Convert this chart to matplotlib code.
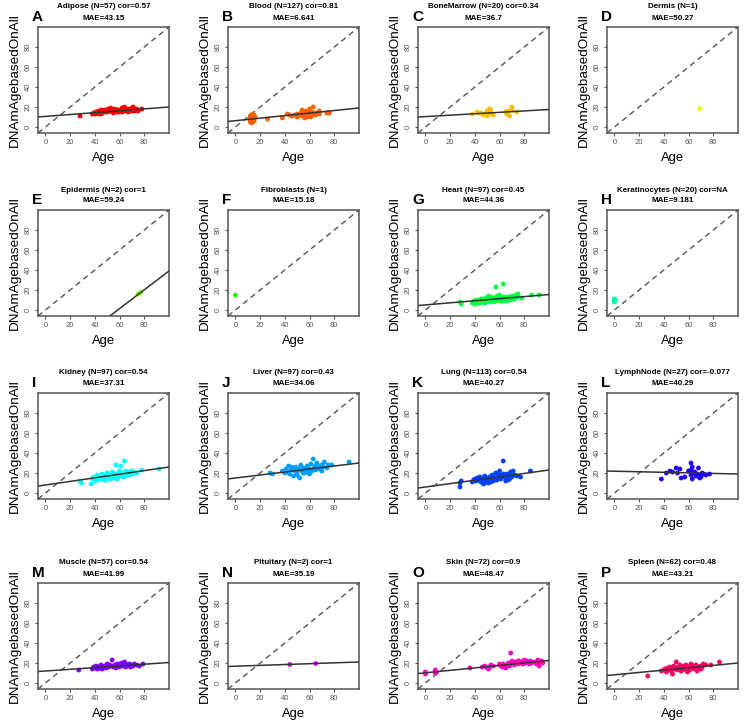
import matplotlib
matplotlib.use("Agg")
import matplotlib.pyplot as plt
import numpy as np

plt.rcParams['font.family'] = ['Liberation Sans', 'DejaVu Sans']

# ---------------- data ----------------
tissues = ["Adipose", "Blood", "BoneMarrow", "Dermis", "Epidermis", "Fibroblasts",
           "Heart", "Keratinocytes", "Kidney", "Liver", "Lung", "LymphNode",
           "Muscle", "Pituitary", "Skin", "Spleen"]
letters = list("ABCDEFGHIJKLMNOP")
n_samples = [57, 127, 20, 1, 2, 1, 97, 20, 97, 97, 113, 27, 57, 2, 72, 62]
cor_text = ["0.57", "0.81", "0.34", None, "1", None, "0.45", "NA", "0.54", "0.43",
            "0.54", "-0.077", "0.54", "1", "0.9", "0.48"]
mae_text = ["43.15", "6.641", "36.7", "50.27", "59.24", "15.18", "44.36", "9.181",
            "37.31", "34.06", "40.27", "40.29", "41.99", "35.19", "48.47", "43.21"]
colors = ["#FF0000", "#FF6000", "#FFBF00", "#DFFF00", "#80FF00", "#20FF00",
          "#00FF40", "#00FF9F", "#00FFFF", "#009FFF", "#0040FF", "#2000FF",
          "#8000FF", "#DF00FF", "#FF00BF", "#FF0060"]
# fitted line (intercept, slope); None = no fit drawn
fit_intercept = [10.6, 6.3, 10.4, None, -55.0, None, 5.1, None, 8.0, 15.0, 6.0, 21.8,
                 12.0, 16.8, 10.2, 8.2]
fit_slope = [0.094, 0.127, 0.071, None, 0.94, None, 0.104, None, 0.18, 0.15, 0.17, -0.028,
             0.085, 0.042, 0.123, 0.118]

adipose_age = [28, 38, 39, 40, 41, 42, 43, 44, 45, 46, 47, 48, 49, 50, 51, 52, 53, 54, 55, 56,
               57, 58, 59, 60, 61, 62, 63, 64, 65, 66, 67, 68, 69, 70, 71, 72, 73, 74, 75, 78,
               45, 50, 55, 60, 65, 70, 43, 48, 53, 58, 62, 67, 72, 41, 46, 63, 57]
adipose_pred = [11, 13, 14, 13, 15, 14, 16, 15, 17, 14, 16, 15, 16, 17, 18, 16, 17, 15, 16, 18,
                16, 15, 17, 16, 17, 19, 18, 20, 16, 17, 18, 16, 17, 19, 20, 18, 17, 18, 16, 18,
                13, 15, 14, 15, 18, 16, 13, 17, 19, 17, 15, 15, 16, 14, 16, 16, 17]

blood_age = [12, 12, 12, 13, 13, 13, 13, 14, 14, 14, 14, 15, 15, 15, 15, 12, 13, 14, 15, 16,
             12, 14, 15, 13, 26, 38, 42, 44, 46, 48, 50, 50, 52, 54, 54, 55, 56, 56, 57, 58,
             58, 59, 60, 60, 60, 61, 62, 62, 63, 64, 65, 66, 68, 68, 74, 75, 76, 53, 57]
blood_pred = [5, 7, 9, 6, 8, 10, 12, 5, 7, 9, 11, 6, 8, 10, 12, 11, 4, 13, 9, 10,
              8, 6, 7, 9, 8, 9, 13, 12, 11, 12, 13, 10, 12, 11, 17, 15, 13, 9, 11, 14,
              10, 12, 16, 18, 13, 10, 15, 12, 20, 14, 12, 14, 16, 13, 14, 14, 14, 14, 16]

bonemarrow_age = [38, 42, 43, 45, 47, 48, 50, 50, 51, 52, 53, 54, 55, 65, 66, 67, 68, 70, 70, 74]
bonemarrow_pred = [13, 15, 14, 14, 12, 13, 16, 11, 14, 18, 17, 13, 12, 15, 13, 16, 11, 20, 17, 15]

dermis_age = [69]
dermis_pred = [18.5]

epidermis_age = [75, 77]
epidermis_pred = [16, 17.5]

fibroblasts_age = [0]
fibroblasts_pred = [15]

heart_age = [28, 29, 38, 39, 40, 40, 41, 42, 42, 43, 44, 44, 45, 46, 46, 47, 48, 48, 49, 50,
             50, 51, 52, 52, 53, 54, 55, 55, 56, 57, 57, 58, 59, 60, 60, 61, 62, 63, 63, 64,
             65, 66, 67, 68, 69, 70, 71, 72, 73, 74, 75, 78, 86, 92, 45, 50, 53, 58, 62, 66, 70]
heart_pred = [8, 6, 7, 9, 8, 6, 10, 7, 9, 8, 10, 7, 9, 8, 11, 10, 9, 7, 12, 10,
              8, 14, 11, 9, 13, 10, 12, 8, 11, 23, 9, 14, 10, 12, 15, 9, 11, 26, 13, 10,
              12, 9, 11, 13, 10, 14, 12, 11, 15, 13, 16, 12, 15, 15, 11, 12, 9, 11, 9, 13, 11]

keratinocytes_age = [0, 0, 0, 0, 0, 0, 0, 0, 0, 0]
keratinocytes_pred = [8, 8.5, 9, 9.5, 10, 10.5, 11, 9.2, 10.2, 8.8]

kidney_age = [28, 29, 37, 38, 39, 40, 41, 42, 43, 44, 45, 46, 47, 48, 49, 50, 51, 52, 53, 54,
              55, 56, 57, 58, 59, 60, 61, 62, 63, 64, 65, 66, 67, 68, 69, 70, 71, 72, 74, 78,
              92, 45, 50, 55, 60, 65, 48, 53, 58, 63, 68]
kidney_pred = [12, 10, 9, 14, 16, 12, 15, 18, 13, 16, 14, 19, 15, 17, 13, 20, 16, 18, 14, 21,
               17, 15, 28, 19, 16, 22, 27, 18, 20, 32, 17, 19, 21, 18, 20, 22, 19, 21, 20, 23,
               24, 18, 15, 19, 17, 22, 13, 17, 14, 16, 21]

liver_age = [28, 30, 38, 40, 41, 42, 43, 44, 45, 46, 47, 48, 49, 50, 51, 52, 53, 54, 55, 56,
             57, 58, 59, 60, 61, 62, 63, 64, 65, 66, 67, 68, 69, 70, 71, 72, 74, 75, 78, 92,
             45, 50, 55, 60, 65, 70, 48, 53, 58, 63]
liver_pred = [20, 19, 22, 20, 24, 21, 27, 19, 23, 25, 17, 22, 26, 21, 24, 15, 28, 22, 25, 20,
              23, 27, 21, 24, 29, 22, 34, 26, 23, 30, 25, 24, 27, 22, 26, 31, 25, 28, 28, 31,
              26, 18, 20, 19, 28, 28, 25, 23, 25, 24]

lung_age = [28, 28, 29, 38, 39, 40, 41, 42, 43, 44, 45, 46, 47, 48, 49, 50, 51, 52, 53, 54,
            55, 56, 57, 58, 59, 60, 61, 62, 63, 64, 65, 66, 67, 68, 69, 70, 71, 72, 74, 77,
            85, 45, 50, 55, 60, 65, 48, 53, 58, 63, 68]
lung_pred = [6, 10, 12, 11, 13, 14, 12, 15, 13, 16, 11, 14, 9, 17, 13, 15, 10, 16, 14, 18,
             12, 15, 20, 13, 17, 22, 14, 16, 32, 18, 15, 19, 13, 17, 21, 16, 22, 18, 17, 16,
             22, 15, 12, 16, 18, 12, 10, 11, 16, 19, 14]

lymphnode_age = [38, 42, 45, 47, 50, 51, 53, 54, 57, 60, 62, 62, 63, 63, 64, 65, 66, 67, 68, 69,
                 70, 70, 71, 72, 74, 77, 62]
lymphnode_pred = [14, 20, 22, 21, 25, 20, 24, 15, 16, 22, 30, 18, 14, 26, 20, 21, 17, 19, 25, 15,
                  16, 18, 20, 19, 18, 19, 23]

muscle_age = [27, 38, 39, 40, 41, 42, 43, 44, 45, 46, 47, 48, 49, 50, 51, 52, 53, 54, 55, 56,
              57, 58, 59, 60, 61, 62, 63, 64, 65, 66, 67, 68, 69, 70, 71, 72, 74, 76, 79,
              45, 50, 55, 60, 65, 70]
muscle_pred = [13, 14, 16, 15, 17, 14, 16, 15, 18, 14, 16, 17, 15, 19, 16, 18, 17, 23, 16, 18,
               15, 19, 17, 16, 18, 20, 17, 21, 19, 18, 17, 19, 16, 18, 17, 19, 18, 17, 19,
               15, 16, 17, 19, 16, 17]

pituitary_age = [44, 65]
pituitary_pred = [18.5, 19.5]

skin_age = [0, 0, 0, 8, 8, 8, 9, 36, 46, 48, 50, 51, 52, 53, 55, 60, 62, 63, 64, 65,
            66, 67, 68, 69, 70, 71, 72, 73, 74, 75, 76, 77, 78, 79, 80, 81, 82, 83, 84, 85,
            86, 88, 90, 91, 92, 93, 94, 95, 60, 70, 80, 85, 75, 68]
skin_pred = [9, 11, 10, 10, 12, 13, 11, 15, 16, 17, 15, 14, 16, 18, 17, 18, 16, 19, 17, 15,
             18, 20, 17, 30, 22, 19, 18, 21, 20, 19, 22, 20, 21, 19, 23, 20, 22, 21, 19, 22,
             20, 21, 19, 23, 17, 21, 22, 20, 19, 20, 21, 20, 22, 19]

spleen_age = [27, 38, 40, 41, 42, 43, 44, 45, 46, 47, 48, 49, 50, 51, 52, 53, 54, 55, 56, 57,
              58, 59, 60, 61, 62, 63, 64, 65, 66, 67, 68, 69, 70, 71, 72, 74, 78, 85,
              45, 50, 55, 60, 65, 70]
spleen_pred = [7, 12, 13, 14, 11, 15, 13, 16, 12, 9, 17, 14, 21, 13, 16, 18, 12, 15, 17, 14,
               18, 11, 16, 13, 19, 15, 17, 14, 18, 12, 16, 15, 17, 16, 19, 18, 18, 21,
               14, 15, 13, 14, 16, 14]

ages = [adipose_age, blood_age, bonemarrow_age, dermis_age, epidermis_age, fibroblasts_age,
        heart_age, keratinocytes_age, kidney_age, liver_age, lung_age, lymphnode_age,
        muscle_age, pituitary_age, skin_age, spleen_age]
preds = [adipose_pred, blood_pred, bonemarrow_pred, dermis_pred, epidermis_pred, fibroblasts_pred,
         heart_pred, keratinocytes_pred, kidney_pred, liver_pred, lung_pred, lymphnode_pred,
         muscle_pred, pituitary_pred, skin_pred, spleen_pred]

ticks = [0, 20, 40, 60, 80]

# ---------------- layout ----------------
W, H = 746, 723
fig = plt.figure(figsize=(W / 100, H / 100), dpi=100)
col_left = [38, 228, 418, 607]
row_top = [27, 210, 393, 583]
bw, bh = 131, 106
lim = (-6, 100)
frame_col = "#555555"

for i in range(16):
    r, c = divmod(i, 4)
    x0, y0 = col_left[c], row_top[r]
    ax = fig.add_axes([x0 / W, 1 - (y0 + bh) / H, bw / W, bh / H])
    ax.set_xlim(lim)
    ax.set_ylim(lim)
    ax.plot(lim, lim, ls=(0, (4, 3)), color="#555555", lw=1.0, zorder=1)
    if fit_slope[i] is not None:
        xx = np.array(lim, dtype=float)
        ax.plot(xx, fit_intercept[i] + fit_slope[i] * xx, color="#333333", lw=1.1, zorder=3)
    ax.scatter(ages[i], preds[i], s=12, color=colors[i], edgecolors="none", zorder=2)

    ax.set_xticks(ticks)
    ax.set_yticks(ticks)
    ax.tick_params(axis="both", direction="out", length=2.5, width=0.8, colors=frame_col,
                   labelsize=5.5, pad=2)
    for lab in ax.get_yticklabels():
        lab.set_rotation(90)
        lab.set_va("center")
    for s in ax.spines.values():
        s.set_color(frame_col)
        s.set_linewidth(1.1)

    ax.set_xlabel("Age", fontsize=9.4, labelpad=4)
    ax.set_ylabel("DNAmAgebasedOnAll", fontsize=9.7, labelpad=3)

    line1 = f"{tissues[i]} (N={n_samples[i]})"
    if cor_text[i] is not None:
        line1 += f" cor={cor_text[i]}"
    ax.text(0.5, 1.0 + 20 / bh, line1, transform=ax.transAxes, ha="center", va="center",
            fontsize=5.8, fontweight="bold")
    ax.text(0.5, 1.0 + 9 / bh, f"MAE={mae_text[i]}", transform=ax.transAxes, ha="center",
            va="center", fontsize=5.8, fontweight="bold")
    ax.text(-6 / bw, 1.0 + 3 / bh, letters[i], transform=ax.transAxes, ha="left",
            va="bottom", fontsize=11, fontweight="bold")

fig.savefig("out.png", dpi=100)
